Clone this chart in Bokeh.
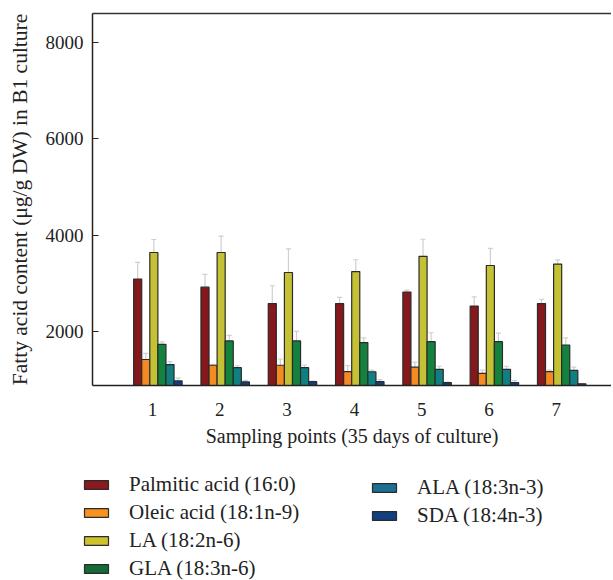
from bokeh.plotting import figure
from bokeh.layouts import column, row
from bokeh.models import (ColumnDataSource, Legend, LegendItem, LinearAxis, FixedTicker,
                          Whisker, TeeHead, Range1d)
from bokeh.embed import file_html
from bokeh.resources import INLINE

# ---- data ----
points = [1, 2, 3, 4, 5, 6, 7]
tick_labels = ["1", "2", "3", "4", "5", "6", "7"]
series_names = ["Palmitic acid (16:0)", "Oleic acid (18:1n-9)", "LA (18:2n-6)",
                "GLA (18:3n-6)", "ALA (18:3n-3)", "SDA (18:4n-3)"]
palmitic = [3090, 2920, 2580, 2580, 2820, 2530, 2580]
palmitic_err = [345, 265, 370, 130, 40, 190, 90]
oleic = [1420, 1300, 1300, 1170, 1260, 1130, 1170]
oleic_err = [125, 20, 130, 125, 105, 70, 30]
la = [3640, 3640, 3225, 3245, 3560, 3370, 3400]
la_err = [270, 340, 490, 245, 355, 355, 85]
gla = [1735, 1805, 1805, 1770, 1790, 1790, 1720]
gla_err = [50, 115, 200, 100, 185, 175, 150]
ala = [1315, 1250, 1250, 1165, 1215, 1215, 1195]
ala_err = [60, 40, 55, 35, 65, 65, 65]
sda = [975, 955, 960, 960, 940, 940, 915]
sda_err = [60, 30, 10, 40, 10, 40, 0]
y_ticks = [2000, 4000, 6000, 8000]

series_vals = [palmitic, oleic, la, gla, ala, sda]
series_errs = [palmitic_err, oleic_err, la_err, gla_err, ala_err, sda_err]
bar_colors = ["#85181b", "#f58a22", "#c4c234", "#12823e", "#0f7f82", "#123f80"]
legend_colors = ["#8b1a1f", "#f7931e", "#cdc22e", "#136b38", "#1d7094", "#123f80"]

FONT = "Liberation Serif"
bar_w = 0.12
group_shift = 0.08

W = 611
LEFT = 92
px_per_unit = 67.3
x_start = 1 - 60 / px_per_unit
x_end = x_start + (W - LEFT) / px_per_unit

p = figure(width=W, height=460, output_backend="svg", toolbar_location=None,
           x_range=Range1d(x_start, x_end), y_range=Range1d(880, 8600),
           min_border_left=LEFT, min_border_top=13, min_border_bottom=75, min_border_right=0)
p.outline_line_color = None
p.grid.grid_line_color = None
p.background_fill_color = "white"

for i, (vals, errs) in enumerate(zip(series_vals, series_errs)):
    off = (i - 2.5) * bar_w + group_shift
    xs = [pt + off for pt in points]
    src = ColumnDataSource(dict(x=xs, top=vals, up=[v + e for v, e in zip(vals, errs)]))
    p.vbar(x="x", top="top", bottom=0, width=bar_w, source=src,
           fill_color=bar_colors[i], line_color="#2b2b2b", line_width=1.2)
    w = Whisker(base="x", lower="top", upper="up", source=src, line_color="#cfcfcf",
                line_width=1.2, lower_head=None,
                upper_head=TeeHead(size=5, line_color="#cfcfcf", line_width=1.2))
    p.add_layout(w)

# axes
p.xaxis.ticker = FixedTicker(ticks=points)
p.xaxis.major_label_overrides = {pt: lab for pt, lab in zip(points, tick_labels)}
p.xaxis.major_tick_in = 0
p.xaxis.major_tick_out = 0
p.xaxis.minor_tick_line_color = None
p.xaxis.major_label_standoff = 17
p.xaxis.axis_label = "Sampling points (35 days of culture)"
p.xaxis.axis_label_standoff = 6

p.yaxis.ticker = FixedTicker(ticks=y_ticks)
p.yaxis.major_tick_in = 6
p.yaxis.major_tick_out = 0
p.yaxis.minor_tick_line_color = None
p.yaxis.major_label_standoff = 9
p.yaxis.axis_label = "Fatty acid content (\u03bcg/g DW) in B1 culture"
p.yaxis.axis_label_standoff = 11

for ax in (p.xaxis[0], p.yaxis[0]):
    ax.axis_line_color = "#222222"
    ax.axis_line_width = 1.5
    ax.major_tick_line_color = "#222222"
    ax.major_tick_line_width = 1.2
    ax.major_label_text_font = FONT
    ax.major_label_text_font_size = "19px"
    ax.major_label_text_color = "#222222"
    ax.axis_label_text_font = FONT
    ax.axis_label_text_font_style = "normal"
    ax.axis_label_text_color = "#222222"
p.xaxis.axis_label_text_font_size = "20px"
p.yaxis.axis_label_text_font_size = "21.5px"

top_axis = LinearAxis(ticker=FixedTicker(ticks=[]), major_tick_in=0, major_tick_out=0,
                      minor_tick_line_color=None, major_label_standoff=0,
                      major_label_text_font_size="0px", axis_line_color="#333333",
                      axis_line_width=1.5)
p.add_layout(top_axis, "above")

# ---- legend figure ----
lf = figure(width=W, height=120, output_backend="svg", toolbar_location=None,
            x_range=Range1d(0, 1), y_range=Range1d(0, 1),
            x_axis_location=None, y_axis_location=None,
            min_border=0, min_border_left=0, min_border_right=0,
            min_border_top=0, min_border_bottom=0)
lf.grid.grid_line_color = None
lf.outline_line_color = None

leg_renderers = []
for i in range(6):
    lr = lf.vbar(x=[-10], top=[0], width=0.1, fill_color=legend_colors[i],
                 line_color="#2b2b2b", line_width=1.2)
    leg_renderers.append(lr)

legend_kw = dict(glyph_width=30, glyph_height=11, label_standoff=18, spacing=3,
                 label_height=20, padding=0, margin=0, border_line_color=None,
                 background_fill_alpha=0, label_text_font=FONT,
                 label_text_font_size="21px", label_text_color="#222222")

leg1 = Legend(items=[LegendItem(label=series_names[i], renderers=[leg_renderers[i]]) for i in range(4)],
              location=(81, -1), **legend_kw)
leg2 = Legend(items=[LegendItem(label=series_names[i], renderers=[leg_renderers[i]]) for i in range(4, 6)],
              location=(369, 52), **legend_kw)
lf.add_layout(leg1, "center")
lf.add_layout(leg2, "center")

layout = column(p, row(lf), spacing=0)
open("out.html", "w").write(file_html(layout, INLINE))
